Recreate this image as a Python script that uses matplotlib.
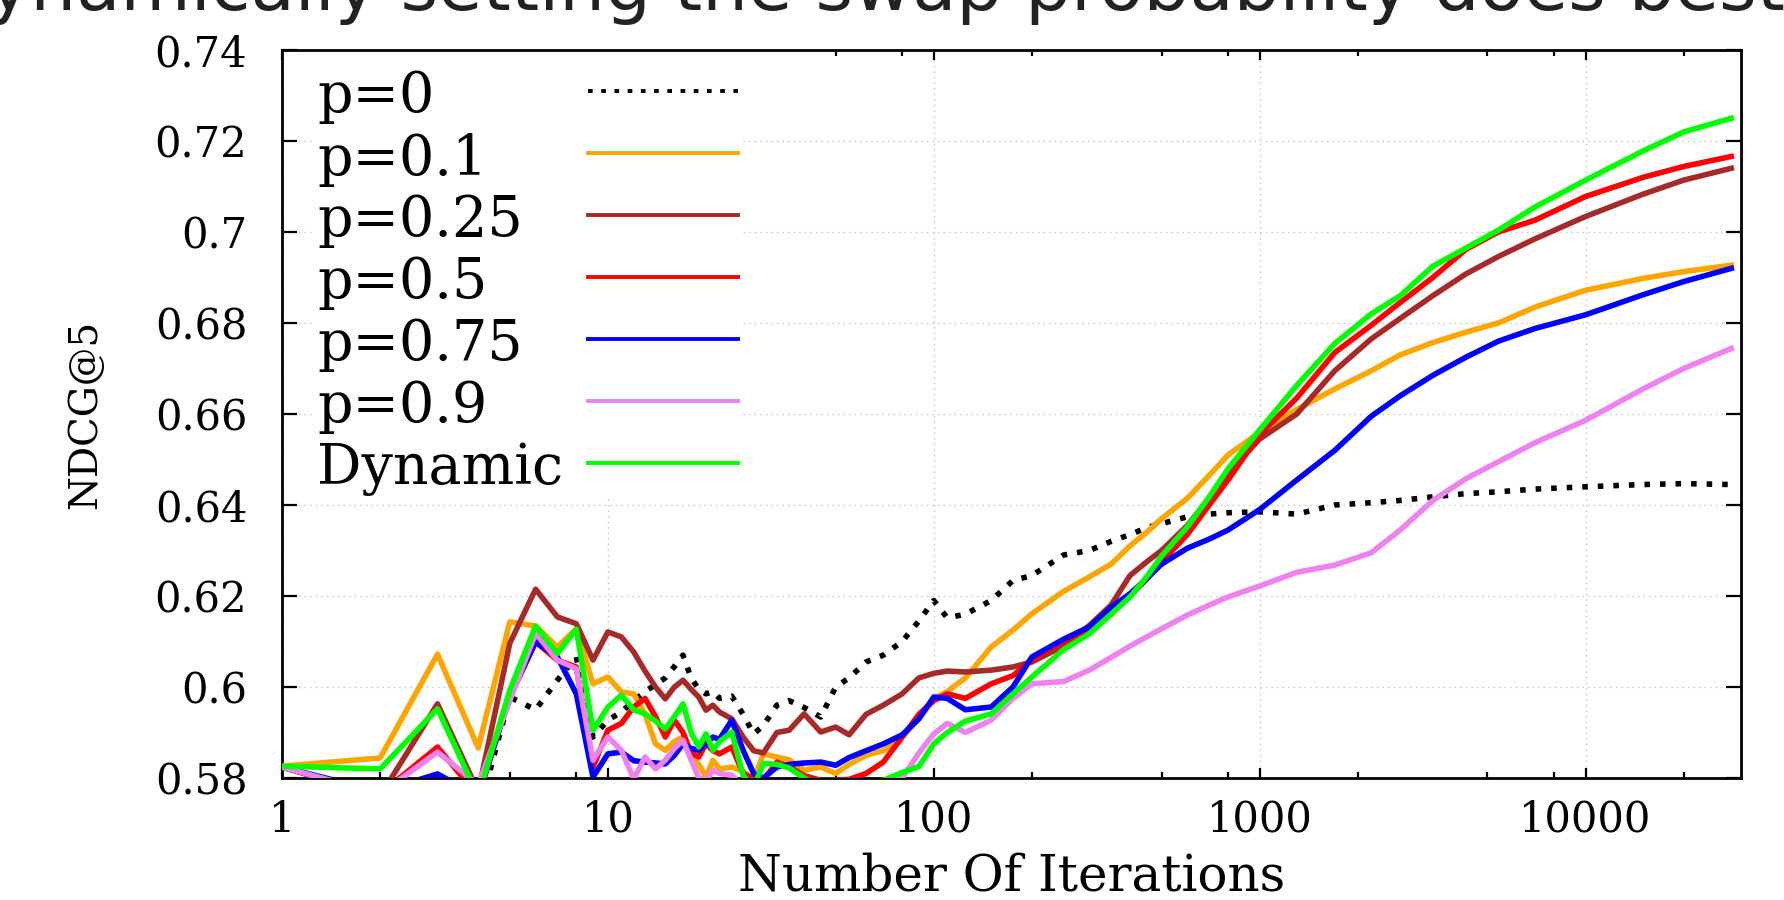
import matplotlib
matplotlib.use("Agg")
import matplotlib.pyplot as plt
from matplotlib.ticker import FixedLocator, FuncFormatter, NullFormatter
from matplotlib.patches import Rectangle

# x positions (number of iterations) shared by all series
iters = [1, 2, 3, 4, 5, 6, 7, 8, 9, 10, 11,
         12, 13, 14, 15, 16, 17, 18, 19, 20, 21, 22,
         24, 26, 28, 30, 33, 36, 40, 45, 50, 55, 62, 70, 80, 90, 100,
         110, 125, 150, 175, 200, 250, 300, 350, 400, 450, 500,
         600, 700, 800, 1000, 1300, 1700, 2200, 2700, 3400, 4300, 5400, 7000, 10000, 15000, 20000, 28000]

p0 = [0.574, 0.575, 0.577, 0.572, 0.5978, 0.595, 0.6015, 0.6066, 0.589, 0.5927, 0.5945,
      0.597, 0.599, 0.6005, 0.602, 0.6045, 0.607, 0.602, 0.5995, 0.5985, 0.599, 0.5975,
      0.598, 0.594, 0.5897, 0.5915, 0.596, 0.597, 0.5955, 0.5934, 0.600, 0.602, 0.6055, 0.607, 0.610, 0.6145, 0.619,
      0.6152, 0.616, 0.619, 0.6234, 0.6245, 0.629, 0.630, 0.632, 0.6335, 0.635, 0.6359,
      0.6374, 0.638, 0.6383, 0.6385, 0.638, 0.640, 0.6405, 0.641, 0.6418, 0.6425, 0.6429, 0.6435, 0.644, 0.6445, 0.6447, 0.6445]

p01 = [0.5826, 0.5844, 0.6072, 0.5866, 0.6143, 0.6134, 0.6088, 0.6128, 0.6007, 0.6022, 0.5989,
       0.5985, 0.594, 0.5875, 0.5861, 0.588, 0.589, 0.5846, 0.583, 0.5802, 0.5839, 0.582,
       0.5824, 0.5815, 0.5795, 0.5853, 0.5846, 0.584, 0.5817, 0.5824, 0.581, 0.583, 0.585, 0.586, 0.589, 0.593, 0.5975,
       0.599, 0.602, 0.6088, 0.6125, 0.6161, 0.621, 0.6242, 0.627, 0.631, 0.634, 0.637,
       0.6415, 0.6465, 0.651, 0.656, 0.661, 0.6655, 0.6695, 0.673, 0.6757, 0.678, 0.680, 0.6835, 0.6872, 0.6898, 0.6913, 0.6927]

p025 = [0.5824, 0.576, 0.5963, 0.577, 0.6096, 0.6215, 0.6154, 0.6139, 0.6059, 0.6121, 0.611,
        0.6077, 0.6035, 0.600, 0.5974, 0.600, 0.6015, 0.5995, 0.5978, 0.5949, 0.596, 0.5945,
        0.593, 0.589, 0.586, 0.5855, 0.590, 0.5905, 0.5941, 0.5901, 0.5912, 0.5895, 0.594, 0.596, 0.5985, 0.602, 0.603,
        0.6035, 0.6033, 0.6037, 0.6044, 0.6055, 0.609, 0.6135, 0.618, 0.6245, 0.6275, 0.630,
        0.6355, 0.6415, 0.647, 0.6545, 0.660, 0.6695, 0.6765, 0.681, 0.686, 0.6908, 0.6946, 0.6985, 0.7034, 0.7083, 0.7114, 0.714]

p05 = [0.5824, 0.5765, 0.5868, 0.576, 0.5978, 0.6099, 0.6059, 0.6044, 0.5824, 0.5905, 0.592,
       0.5956, 0.5975, 0.5935, 0.589, 0.5927, 0.590, 0.5855, 0.5846, 0.5875, 0.586, 0.5853,
       0.5868, 0.581, 0.5798, 0.5795, 0.5835, 0.5825, 0.5805, 0.5795, 0.5795, 0.5797, 0.581, 0.5835, 0.589, 0.594, 0.597,
       0.5985, 0.5975, 0.6007, 0.6025, 0.6059, 0.610, 0.6127, 0.616, 0.620, 0.6237, 0.6275,
       0.6335, 0.640, 0.6455, 0.6555, 0.6635, 0.6735, 0.6795, 0.6845, 0.690, 0.6962, 0.700, 0.7026, 0.7078, 0.712, 0.7144, 0.7166]

p075 = [0.5824, 0.577, 0.5809, 0.576, 0.598, 0.6099, 0.6066, 0.5985, 0.5802, 0.5853, 0.5857,
        0.5838, 0.5835, 0.5833, 0.5831, 0.585, 0.5875, 0.5865, 0.5861, 0.5875, 0.589, 0.5885,
        0.5927, 0.5861, 0.581, 0.580, 0.5824, 0.583, 0.5833, 0.5835, 0.5828, 0.5845, 0.586, 0.5875, 0.5895, 0.593, 0.5978,
        0.5975, 0.595, 0.5956, 0.600, 0.6066, 0.6105, 0.6132, 0.6175, 0.6205, 0.6238, 0.627,
        0.6305, 0.6325, 0.6345, 0.639, 0.6455, 0.652, 0.6595, 0.664, 0.6685, 0.6725, 0.676, 0.6788, 0.6818, 0.6862, 0.6891, 0.692]

p09 = [0.5824, 0.5765, 0.5857, 0.5785, 0.597, 0.6118, 0.6059, 0.604, 0.5839, 0.589, 0.5861,
       0.5798, 0.5846, 0.582, 0.5839, 0.5865, 0.5883, 0.584, 0.580, 0.5795, 0.5817, 0.581,
       0.5806, 0.578, 0.5775, 0.577, 0.577, 0.577, 0.577, 0.577, 0.5772, 0.5775, 0.5778, 0.5785, 0.580, 0.5855, 0.5897,
       0.592, 0.590, 0.5927, 0.5975, 0.6007, 0.6012, 0.6037, 0.6065, 0.609, 0.611, 0.6128,
       0.6158, 0.618, 0.6198, 0.6222, 0.6252, 0.6268, 0.6295, 0.6345, 0.641, 0.6458, 0.6495, 0.6537, 0.6586, 0.6655, 0.670, 0.6744]

dynamic = [0.5826, 0.582, 0.5952, 0.576, 0.5993, 0.6134, 0.6074, 0.6127, 0.5905, 0.5956, 0.5982,
           0.595, 0.5941, 0.5925, 0.5908, 0.5935, 0.5963, 0.590, 0.5868, 0.5897, 0.5861, 0.588,
           0.5901, 0.5805, 0.578, 0.5832, 0.583, 0.5822, 0.580, 0.578, 0.5775, 0.5775, 0.578, 0.5795, 0.5812, 0.5825, 0.5875,
           0.590, 0.5925, 0.5941, 0.5985, 0.6022, 0.6082, 0.6117, 0.616, 0.6198, 0.6242, 0.6288,
           0.6352, 0.6418, 0.648, 0.6565, 0.6663, 0.6755, 0.682, 0.686, 0.6925, 0.6965, 0.7004, 0.7055, 0.7114, 0.7178, 0.722, 0.725]

labels = ['p=0', 'p=0.1', 'p=0.25', 'p=0.5', 'p=0.75', 'p=0.9', 'Dynamic']
colors = ['black', '#ffa500', '#a52a2a', '#ff0000', '#0000ff', '#ee82ee', '#00ff00']
series = [p0, p01, p025, p05, p075, p09, dynamic]

yticks = [0.58, 0.60, 0.62, 0.64, 0.66, 0.68, 0.70, 0.72, 0.74]
xticks = [1, 10, 100, 1000, 10000]

plt.rcParams['font.family'] = 'DejaVu Serif'

fig = plt.figure(figsize=(17.84, 9.0), dpi=100)
ax = fig.add_axes([282 / 1784, 122 / 900, 1459 / 1784, 728 / 900])

dotted = (0, (1.0, 1.8))
for vals, lab, col in zip(series, labels, colors):
    ax.plot(iters, vals, color=col, lw=4.0, ls=dotted if lab == 'p=0' else '-', zorder=3)

ax.set_xscale('log')
ax.set_xlim(1, 30000)
ax.set_ylim(0.58, 0.74)

ax.xaxis.set_major_locator(FixedLocator(xticks))
ax.xaxis.set_major_formatter(FuncFormatter(lambda v, p: f"{v:g}"))
minor = [m * 10 ** d for d in range(5) for m in (2, 5, 8)]
ax.xaxis.set_minor_locator(FixedLocator(minor))
ax.xaxis.set_minor_formatter(NullFormatter())
ax.yaxis.set_major_locator(FixedLocator(yticks))
ax.yaxis.set_major_formatter(FuncFormatter(lambda v, p: f"{round(v, 2):g}"))

ax.tick_params(axis='both', which='both', direction='in', top=True, right=True, labelsize=30, width=1.6)
ax.tick_params(axis='x', which='major', length=7.5, pad=15)
ax.tick_params(axis='x', which='minor', length=4)
ax.tick_params(axis='y', which='major', length=11, pad=25)
for s in ax.spines.values():
    s.set_linewidth(2)

ax.set_axisbelow(True)
ax.grid(True, which='major', color='#c4c4c4', ls=(0, (1, 3)), lw=1.0)

ax.set_xlabel('Number Of Iterations', fontsize=36, labelpad=8)
ax.set_ylabel('NDCG@5', fontsize=28, labelpad=36)

# key: labels left, line samples right, on a white box
ax.add_patch(Rectangle((0.021, 0.386), 0.293, 0.614, transform=ax.transAxes,
                       facecolor='white', edgecolor='none', zorder=1))
row_y = [0.9437, 0.8581, 0.7734, 0.6882, 0.6030, 0.5182, 0.4330]
for yk, lab, col in zip(row_y, labels, colors):
    ax.text(0.024, yk, lab, transform=ax.transAxes, fontsize=40, va='center_baseline', ha='left', zorder=5)
    ax.plot([0.2097, 0.3125], [yk, yk], transform=ax.transAxes, color=col, lw=2.8,
            ls=(0, (1.2, 2.2)) if lab == 'p=0' else '-', zorder=5)

fig.text(-68 / 1784, 1 - 10 / 900, 'Dynamically setting the swap probability does best',
         fontsize=52, family='DejaVu Sans', color='#222222', ha='left', va='baseline')

fig.savefig('out.png', dpi=100)
